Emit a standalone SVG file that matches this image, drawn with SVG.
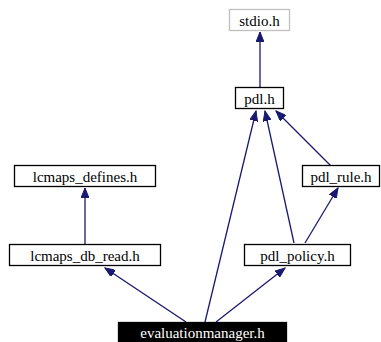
<svg xmlns="http://www.w3.org/2000/svg" width="381" height="342" viewBox="0 0 381 342">
<style>
.box{fill:#ffffff;stroke:#000000;stroke-width:1.3}
.gray{fill:#ffffff;stroke:#bfbfbf;stroke-width:1.3}
.dark{fill:#000000;stroke:#000000;stroke-width:1.3}
.lbl{font-family:"Liberation Serif","Times New Roman",Times,serif;font-size:15px;text-anchor:middle;fill:#000000}
.light{fill:#ffffff}
.edge{stroke:#191970;stroke-width:1.3;fill:none;marker-end:url(#arr)}
</style>
<defs>
<marker id="arr" markerUnits="userSpaceOnUse" markerWidth="11" markerHeight="8" refX="10" refY="4" orient="auto">
<path d="M0,0 L10,4 L0,8 z" fill="#191970" stroke="#191970" stroke-width="1"/>
</marker>
</defs>
<rect x="0" y="0" width="381" height="342" fill="#ffffff"/>
<g id="edges">
<line class="edge" x1="260" y1="87" x2="260" y2="32"/>
<line class="edge" x1="85" y1="244" x2="85" y2="188"/>
<line class="edge" x1="305" y1="243" x2="338" y2="188"/>
<line class="edge" x1="331" y1="166" x2="276" y2="111"/>
<line class="edge" x1="294" y1="243" x2="265" y2="111"/>
<line class="edge" x1="205" y1="322" x2="256" y2="111"/>
<line class="edge" x1="186" y1="322" x2="105" y2="268"/>
<line class="edge" x1="216" y1="322" x2="285" y2="268"/>
</g>
<g id="stdio">
<rect class="gray" x="229.5" y="9.5" width="60" height="21"/>
<text class="lbl" x="259.5" y="25.5">stdio.h</text>
</g>
<g id="pdl">
<rect class="box" x="235.5" y="87.5" width="48" height="21"/>
<text class="lbl" x="259.5" y="103.5">pdl.h</text>
</g>
<g id="lcmaps_defines">
<rect class="box" x="14.5" y="165.5" width="141" height="21"/>
<text class="lbl" x="85" y="181.5">lcmaps_defines.h</text>
</g>
<g id="pdl_rule">
<rect class="box" x="302.5" y="165.5" width="77" height="21"/>
<text class="lbl" x="341" y="181.5">pdl_rule.h</text>
</g>
<g id="lcmaps_db_read">
<rect class="box" x="9.5" y="244.5" width="151" height="21"/>
<text class="lbl" x="85" y="260.5">lcmaps_db_read.h</text>
</g>
<g id="pdl_policy">
<rect class="box" x="244.5" y="244.5" width="106" height="21"/>
<text class="lbl" x="297.5" y="260.5">pdl_policy.h</text>
</g>
<g id="evaluationmanager">
<rect class="dark" x="118.5" y="322.5" width="168" height="21"/>
<text class="lbl light" x="202.5" y="338">evaluationmanager.h</text>
</g>
</svg>
